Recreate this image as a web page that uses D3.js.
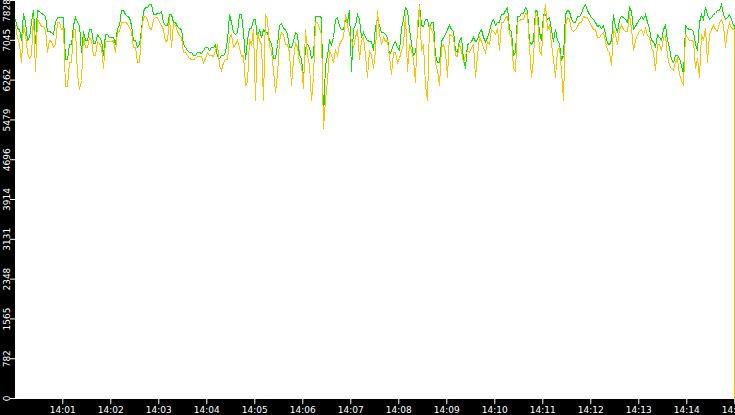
<!DOCTYPE html>
<html>
<head>
<meta charset="utf-8">
<script src="https://cdn.jsdelivr.net/npm/d3@7"></script>
<style>
  html, body { margin: 0; padding: 0; background: #000; }
  svg { display: block; }
  .tick text { fill: #fff; font-family: "DejaVu Sans", sans-serif; }
</style>
</head>
<body>
<svg width="735" height="415"></svg>
<script>
// green and orange: readings every 5 s from 14:00:01 (A) and the ones in between (B, +2.5 s)
var greenA = [
  7435,7238,7553,7041,7376,6963,7592,7533,7199,7179,7395,7474,7474,6648,6943,7474,7336,7199,7041,7238,6982,7100,6746,7140,7081,6943,7336,7631,7494,7336,7041,6943,
  7592,7671,7730,7533,7572,7395,7336,7533,7395,7277,6943,6844,6786,6746,6805,6844,6884,6903,6943,6687,6746,7041,7395,7140,7533,7179,7041,7277,7435,7238,
  7238,7179,6982,6687,7336,7277,7140,6903,7179,6746,6254,6943,6687,7494,7494,5468,6746,6943,7435,7297,7238,7395,6412,7336,7435,7179,7041,7002,7297,7336,
  7179,7100,6844,7002,6844,7435,7631,6982,6805,7749,7297,7435,7395,6746,6589,7081,7238,7238,6844,7041,6648,6943,7002,7002,7179,7081,7100,7376,7336,7395,
  7533,7671,7199,6786,7513,7572,7631,6943,7631,7179,7533,7435,7238,7238,6982,6746,7631,7435,7395,7513,7671,7631,7474,7395,7336,7317,6982,7041,7297,7435,
  7474,7395,7592,7297,7435,7435,7376,7041,6884,7100,7238,7041,6648,6746,6687,6353,7277,7238,6943,7395,7435,7533,7474,7553,7631,7533,7474,7435
];
var greenB = [
  7277,7041,7395,7100,7631,7631,7572,7494,7199,7140,7474,7474,6648,6943,7336,7376,6786,7041,7238,6982,7140,7041,7140,7081,7100,7277,7631,7533,7474,7041,6903,7238,
  7671,7749,7533,7553,7592,7336,7533,7395,7297,7238,6903,6805,6746,6786,6766,6884,6844,6884,6707,6746,6786,7533,7179,7179,7533,6648,7277,7435,7041,7100,
  7179,7041,6687,6943,7356,7238,6903,7002,7140,6687,6903,6884,6746,7494,7474,6549,7041,7081,7474,7238,7435,7631,7277,7533,7081,7081,7002,6844,7435,7179,
  7140,6746,6943,6903,7277,7671,7238,6746,7140,7336,7435,7238,7395,6608,7002,7140,7336,7199,6805,7081,6490,6982,7081,7041,7238,7002,7199,7435,7395,7533,
  7631,7238,6746,7494,7553,7671,7002,7041,7592,7041,7533,7474,7002,7041,6648,7533,7592,7395,7494,7553,7730,7533,7435,7297,7277,7140,6943,7533,7179,7513,
  7435,7671,7238,7395,7513,7533,7277,7002,7140,7041,7336,6884,6608,6746,6549,7336,7238,7199,6844,7533,7671,7435,7533,7631,7730,7435,7533,7336
];
var orangeA = [
  7317,6943,7336,6805,6746,6412,7395,7297,6805,7002,6943,7376,7277,6136,6608,7238,6058,7120,6884,7041,6746,6963,6490,7002,7002,6786,7199,7376,7356,7199,6884,6589,
  7474,7435,7238,7474,7395,7238,7041,6884,7336,7120,6805,6746,6648,6687,6726,6608,6805,6746,6825,6530,6589,6648,7140,6943,6884,6746,6215,6943,5861,7041,
  5861,7435,6844,5999,7041,7140,6943,6156,6982,6608,6097,6746,5861,7395,7277,5310,6254,6746,6844,6943,7081,7336,7041,7081,6648,7081,6294,6746,6844,7140,
  7081,7041,6353,6786,6687,6943,6412,6844,6215,7710,6943,5861,7238,6608,6156,6943,6294,7120,6746,6943,6608,6844,6903,6294,7081,6884,7002,7238,7159,6844,
  7395,7494,7081,6412,7415,7435,7533,6313,7553,6844,7435,7238,6943,6294,6884,5861,7474,7238,7238,7376,7513,7474,7317,7238,7081,7179,6844,6549,7140,7238,
  7238,7199,7277,7041,7199,7140,7120,6903,6451,6943,7081,6746,6490,6608,6353,6156,7081,7041,6490,6313,7041,6608,7238,7238,7395,7336,7199,7277
];
var orangeB = [
  7081,6608,7140,6687,7494,7435,7297,7238,7041,6903,7395,7238,6117,6589,7238,6353,6254,6903,7081,6746,7002,6903,7002,7002,7041,7179,7395,7376,7277,6884,6589,7199,
  7513,7277,7435,7474,7317,7002,7474,7356,7199,7081,6786,6687,6648,6726,6707,6687,6746,6707,6943,6451,6648,7100,6884,7041,6707,6156,7041,7238,7179,6943,
  7533,6884,6451,6353,7179,6943,6805,6648,6884,6549,7238,6549,6294,7395,7140,5861,6844,6608,6746,7041,7533,7140,6884,7238,7041,6746,6844,6490,7631,6943,
  7002,6707,6805,6608,6844,7533,6943,6648,7336,6844,6156,7336,7140,6451,6884,6805,7140,7081,6707,6844,6746,6805,6943,6746,7002,6786,6943,7199,7277,7395,
  7474,7140,6490,7395,7435,7553,6884,6648,7513,6746,7730,7336,6648,6844,6451,7336,7435,7199,7297,7395,7474,7395,7238,7081,7140,7002,6786,7238,6943,7317,
  7199,7533,6844,7140,7238,7277,7081,6805,6943,6844,7120,6549,6451,6687,6254,7140,7041,7002,6687,7140,7277,7140,7336,7199,7435,6884,7395,7238
];
// the closing readings, just before and at 14:15:00
var greenTail = [7336, 3720], orangeTail = [7238, 0];

var yTickLabels = [0, 782, 1565, 2348, 3131, 3914, 4696, 5479, 6262, 7045, 7828];
var xTickLabels = ["14:01","14:02","14:03","14:04","14:05","14:06","14:07","14:08",
                   "14:09","14:10","14:11","14:12","14:13","14:14","14:15"];

var svg = d3.select("svg"),
    W = +svg.attr("width"), H = +svg.attr("height"),
    plot = {left: 15, top: 0, right: 735, bottom: 399};

var t0 = new Date(2020, 0, 1, 14, 0, 0);
function at(sec) { return new Date(t0.getTime() + sec * 1000); }

function merge(a, b, tail) {
  var out = [];
  a.forEach(function(v, i) {
    out.push({t: at(1 + 5 * i), v: v});
    out.push({t: at(3.5 + 5 * i), v: b[i]});
  });
  out.push({t: at(899.9), v: tail[0]});
  out.push({t: at(900), v: tail[1]});
  return out;
}

var greenData = merge(greenA, greenB, greenTail),
    orangeData = merge(orangeA, orangeB, orangeTail);

var xScale = d3.scaleTime()
    .domain([t0, at(900)])
    .range([14.3, 734.3]);
var yScale = d3.scaleLinear()
    .domain([0, 7828])
    .range([398, 0]);

svg.append("rect").attr("width", W).attr("height", H).attr("fill", "#000");
svg.append("rect")
    .attr("x", plot.left).attr("y", plot.top)
    .attr("width", plot.right - plot.left).attr("height", plot.bottom - plot.top)
    .attr("fill", "#fff");

svg.append("clipPath").attr("id", "clip")
  .append("rect")
    .attr("x", plot.left).attr("y", plot.top)
    .attr("width", plot.right - plot.left).attr("height", plot.bottom - plot.top);

// plain pixel lines, no smoothing, like the original plotter
var line = d3.line()
    .x(function(d) { return Math.floor(xScale(d.t)) + 0.5; })
    .y(function(d) { return Math.floor(yScale(d.v)) + 0.5; });

var lines = svg.append("g").attr("clip-path", "url(#clip)");
[[greenData, "#00e600"], [orangeData, "#ffc000"]].forEach(function(s) {
  lines.append("path")
    .attr("d", line(s[0]))
    .attr("fill", "none")
    .attr("stroke", s[1])
    .attr("stroke-width", 1)
    .attr("shape-rendering", "crispEdges");
});

// bottom time axis
var xTicks = xTickLabels.map(function(d, i) { return at(60 * (i + 1)); });
var xAxis = svg.append("g")
    .attr("transform", "translate(0," + plot.bottom + ")")
    .call(d3.axisBottom(xScale)
      .tickValues(xTicks)
      .tickSize(5)
      .tickPadding(3)
      .tickFormat(function(d, i) { return xTickLabels[i]; }));
xAxis.select(".domain").remove();
xAxis.selectAll("line").attr("stroke", "#fff");
xAxis.selectAll("text").style("font-size", "9px");

// left value axis, labels turned on their side
var yAxis = svg.append("g")
    .attr("transform", "translate(" + plot.left + ",0)")
    .call(d3.axisLeft(yScale)
      .tickValues(yTickLabels)
      .tickSize(5)
      .tickFormat(d3.format("d")));
yAxis.select(".domain").remove();
yAxis.selectAll("line").attr("stroke", "#fff");
yAxis.selectAll(".tick text")
    .attr("x", null).attr("dy", null)
    .attr("text-anchor", "middle")
    .style("font-size", "9px")
    .attr("transform", function(d) {
      var cy = Math.max(yScale(d), 10) - yScale(d);
      return "translate(-5.5," + cy + ") rotate(-90)";
    });
</script>
</body>
</html>
